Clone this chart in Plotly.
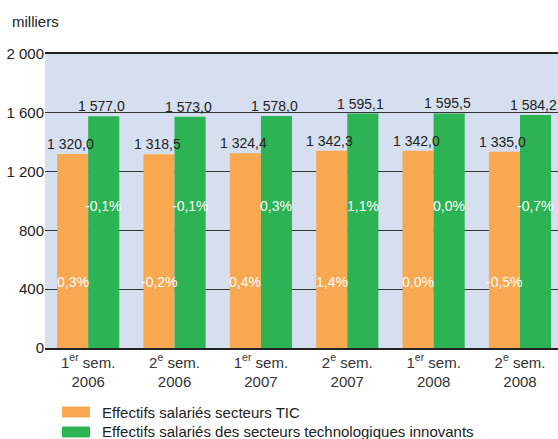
import plotly.graph_objects as go

categories = ["1<sup>er</sup> sem.<br>2006", "2<sup>e</sup> sem.<br>2006", "1<sup>er</sup> sem.<br>2007",
              "2<sup>e</sup> sem.<br>2007", "1<sup>er</sup> sem.<br>2008", "2<sup>e</sup> sem.<br>2008"]
tic_values = [1320.0, 1318.5, 1324.4, 1342.3, 1342.0, 1335.0]
innov_values = [1577.0, 1573.0, 1578.0, 1595.1, 1595.5, 1584.2]
tic_pct = [0.3, -0.2, 0.4, 1.4, 0.0, -0.5]
innov_pct = [-0.1, -0.1, 0.3, 1.1, 0.0, -0.7]
y_ticks = [0, 400, 800, 1200, 1600, 2000]
y_ticklabels = ["0", "400", "800", "1 200", "1 600", "2 000"]
series_names = ["Effectifs salariés secteurs TIC",
                "Effectifs salariés des secteurs technologiques innovants"]

ORANGE = "#f8a850"
GREEN = "#2bb354"
SANS = "Liberation Sans, Arial, sans-serif"


def fr_num(v):
    s = f"{v:,.1f}"
    return s.replace(",", " ").replace(".", ",")


def fr_pct(v):
    return f"{v:.1f}".replace(".", ",") + "%"


x = list(range(len(categories)))

fig = go.Figure()
for vals, name, col in [(tic_values, series_names[0], ORANGE), (innov_values, series_names[1], GREEN)]:
    fig.add_trace(go.Bar(x=x, y=vals, name=name, marker_color=col, marker_line_width=0,
                         showlegend=False, hoverinfo="x+y"))

annotations = []
for i in x:
    # value labels above bars
    annotations.append(dict(x=i - 0.18, y=tic_values[i], xref="x", yref="y", text=fr_num(tic_values[i]),
                            showarrow=False, yanchor="bottom", xshift=-2,
                            font=dict(family=SANS, size=14, color="#222222")))
    annotations.append(dict(x=i + 0.18, y=innov_values[i], xref="x", yref="y", text=fr_num(innov_values[i]),
                            showarrow=False, yanchor="bottom", xshift=-2,
                            font=dict(family=SANS, size=14, color="#222222")))
    # percentage labels inside bars
    annotations.append(dict(x=i - 0.18, y=450, xref="x", yref="y", text=fr_pct(tic_pct[i]),
                            showarrow=False, font=dict(family=SANS, size=14, color="white")))
    annotations.append(dict(x=i + 0.18, y=965, xref="x", yref="y", text=fr_pct(innov_pct[i]),
                            showarrow=False, font=dict(family=SANS, size=14, color="white")))

annotations.append(dict(x=-0.068, y=1.109, xref="paper", yref="paper", text="milliers",
                        showarrow=False, xanchor="left", yanchor="middle",
                        font=dict(family=SANS, size=15, color="#222222")))

shapes = []
legend_colors = [ORANGE, GREEN]
for k, (name, col) in enumerate(zip(series_names, legend_colors)):
    yc = -0.2177 - k * 0.068
    shapes.append(dict(type="rect", xref="paper", yref="paper", x0=0.0331, x1=0.0877,
                       y0=yc - 0.0185, y1=yc + 0.0185, fillcolor=col, line_width=0))
    annotations.append(dict(x=0.107, y=yc, xref="paper", yref="paper", text=name,
                            showarrow=False, xanchor="left", yanchor="middle",
                            font=dict(family=SANS, size=15, color="#222222")))

fig.update_layout(
    width=558, height=439,
    margin=dict(l=45, r=0, t=54, b=91, autoexpand=False),
    paper_bgcolor="white", plot_bgcolor="#d5dff0",
    barmode="group", bargap=0.28, bargroupgap=0,
    annotations=annotations, shapes=shapes,
    showlegend=False,
    font=dict(family=SANS, size=15, color="#222222"),
)
fig.update_xaxes(range=[-0.5, 5.44], tickvals=x, ticktext=categories,
                 showgrid=False, zeroline=False, showline=True, mirror=True,
                 linecolor="#222222", linewidth=1.5, ticks="", automargin=False,
                 tickfont=dict(family=SANS, size=15, color="#333333"))
fig.update_yaxes(range=[0, 2000], tickvals=y_ticks, ticktext=y_ticklabels,
                 showgrid=True, gridcolor="#333333", gridwidth=1.2,
                 zeroline=False, showline=False, ticks="", automargin=False,
                 tickfont=dict(family=SANS, size=15, color="#222222"))

fig.write_html("out.html", config={"displayModeBar": False},
               post_script="document.body.style.margin='0';")
